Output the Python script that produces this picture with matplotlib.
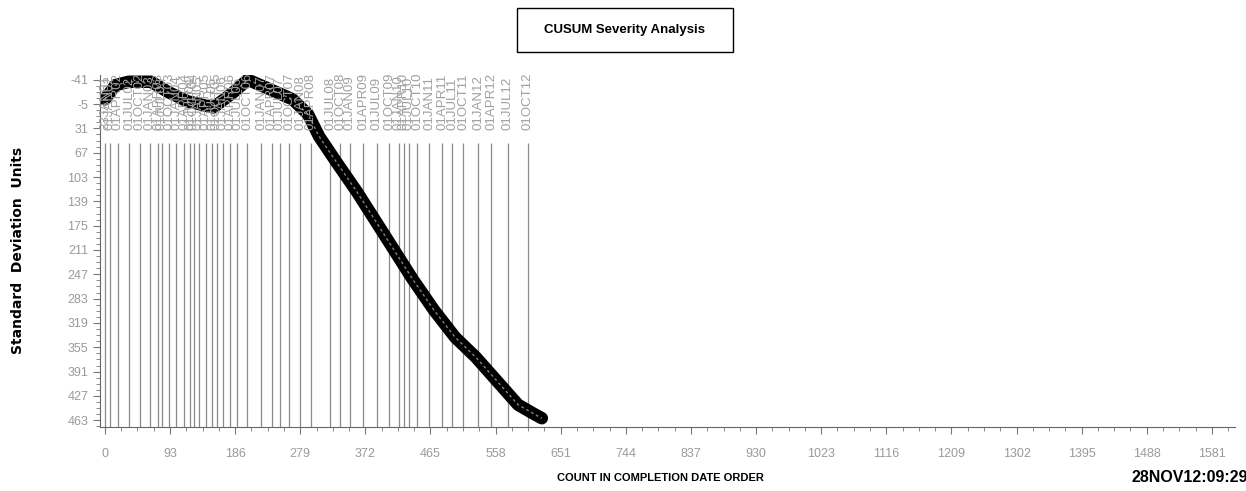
# CUSUM severity chart
import numpy as np
import matplotlib.pyplot as plt
from matplotlib.patches import Rectangle
from matplotlib.ticker import AutoMinorLocator

plt.rcParams['axes.unicode_minus'] = False

# curva cusum
cuenta = [0, 15, 34, 66, 90, 118, 155, 183, 204, 231, 268, 290, 306, 330, 360,
          400, 440, 470, 500, 530, 560, 590, 610, 624]
cusum = [-12, -33, -38, -38, -23, -9, 0, -22, -41, -29, -12, 10, 43, 80, 125,
         190, 255, 300, 340, 370, 405, 440, 452, 460]

# lineas de referencia por trimestre
ref_pos = [0, 7, 18, 35, 50, 64, 76, 81, 92, 102, 113, 122, 127, 134, 144, 153,
           160, 168, 179, 189, 203, 223, 238, 250, 263, 279, 294, 322, 336, 350,
           369, 388, 406, 420, 427, 434, 446, 463, 482, 496, 512, 533, 552, 575, 604]
ref_lab = ["23JAN01"] + ["01%s%02d" % (m, a) for a in range(2, 13)
                         for m in ["JAN", "APR", "JUL", "OCT"]]

yticks = list(range(-41, 464, 36))
xticks = list(range(0, 1582, 93))

fuente = ['Liberation Sans', 'DejaVu Sans']

fig = plt.figure(figsize=(12.46, 4.91), dpi=100)
ax = fig.add_axes([100/1246, 1-427/491, (1235-100)/1246, (427-75)/491])

ax.vlines(ref_pos, 52, 473, color='#8a8a8a', lw=0.9)
for p, l in zip(ref_pos, ref_lab):
    ax.text(p, 34, l, rotation=90, ha='center', va='bottom', fontsize=9.5,
            color='#a0a0a0', family=fuente)

ax.plot(cuenta, cusum, '-', color='black', lw=9, solid_capstyle='round',
        solid_joinstyle='round')
ax.plot(cuenta, cusum, '--', color='#808080', lw=1, dashes=(2, 2))

ax.set_xlim(-7, 1614)
ax.set_ylim(473, -48)
ax.set_xticks(xticks)
ax.set_yticks(yticks)
ax.xaxis.set_minor_locator(AutoMinorLocator(4))
ax.yaxis.set_minor_locator(AutoMinorLocator(4))
ax.tick_params(which='both', colors='#777777', labelcolor='#9a9a9a', labelsize=9)
ax.tick_params(which='major', length=5)
ax.tick_params(which='minor', length=3)
ax.tick_params(axis='x', which='major', pad=10)
for lab in ax.get_xticklabels() + ax.get_yticklabels():
    lab.set_family(fuente)
for s in ['top', 'right']:
    ax.spines[s].set_visible(False)
for s in ['left', 'bottom']:
    ax.spines[s].set_color('#666666')

fig.patches.append(Rectangle((517/1246, 1-52/491), 216/1246, 44/491,
                             transform=fig.transFigure, fill=False,
                             edgecolor='black', lw=1))
fig.text(625/1246, 1-30/491, "CUSUM Severity Analysis", ha='center', va='center',
         fontsize=9.5, weight='bold', family=fuente)
fig.text(660/1246, 1-478/491, "COUNT IN COMPLETION DATE ORDER", ha='center',
         va='center', fontsize=8, weight='bold', family=fuente)
fig.text(1131/1246, 1-478/491, "28NOV12:09:29", ha='left', va='center',
         fontsize=11.5, weight='bold', family=fuente)
fig.text(18/1246, 1-250/491, "Standard  Deviation  Units", rotation=90,
         ha='center', va='center', fontsize=10, weight='bold')

fig.savefig("out.png", dpi=100)
